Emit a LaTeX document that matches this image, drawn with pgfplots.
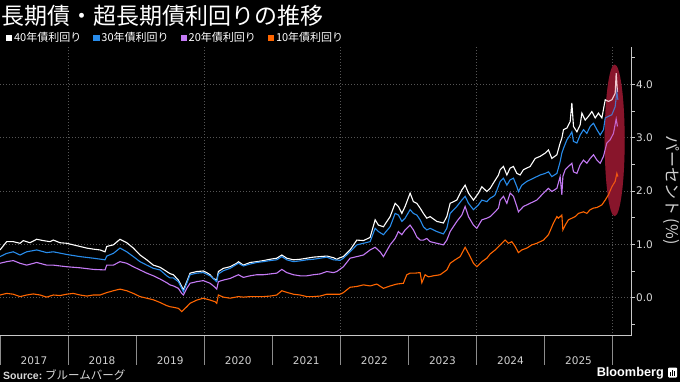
\documentclass[border=0pt]{standalone}
\usepackage{pgfplots}
\pgfplotsset{compat=1.18}
\usepackage{fontspec}
\setmainfont{DejaVu Sans}
\newfontfamily\jp{Noto Sans CJK JP}
\newfontfamily\lib{Liberation Sans}
\definecolor{c40}{RGB}{255,255,255}
\definecolor{c30}{RGB}{40,140,235}
\definecolor{c20}{RGB}{196,122,245}
\definecolor{c10}{RGB}{255,102,0}
\definecolor{axisgray}{RGB}{200,200,200}
\definecolor{gridgray}{RGB}{85,85,85}
\definecolor{sepgray}{RGB}{140,140,140}
\definecolor{ellunder}{RGB}{115,15,35}
\definecolor{ellover}{RGB}{200,40,70}
\begin{document}
\begin{tikzpicture}
\fill[black] (0pt,0pt) rectangle (680pt,-382pt);
\path[use as bounding box] (0pt,0pt) rectangle (680pt,-382pt);
% x axis: year separators, labels, vertical grid
\begin{axis}[at={(0pt,-47pt)}, anchor=north west, scale only axis,
  width=631pt, height=288.7pt,
  xmin=2017, xmax=2026.27, ymin=-0.713, ymax=4.70,
  axis x line*=bottom, axis y line=none, ytick=\empty,
  x axis line style={draw=axisgray, line width=0.7pt, -},
  xtick={2017,2018,2019,2020,2021,2022,2023,2024,2025},
  xticklabels={2017,2018,2019,2020,2021,2022,2023,2024,2025},
  extra x ticks={2026}, extra x tick labels={},
  major tick length=29pt, tick align=outside,
  xtick style={draw=sepgray, line width=0.5pt},
  xticklabel style={font=\fontsize{10.5}{12}\selectfont, text=white!82!black, xshift=34pt, yshift=12pt},
  minor xtick={2018,2020,2022,2024,2026}, xminorgrids=true, minor tick length=0pt,
  minor grid style={draw=gridgray, line width=0.5pt, dash pattern=on 1pt off 2pt},
]
\end{axis}
% main axis
\begin{axis}[at={(0pt,-47pt)}, anchor=north west, scale only axis,
  width=631pt, height=288.7pt,
  xmin=2017, xmax=2026.27, ymin=-0.713, ymax=4.70,
  axis x line=none, axis y line*=right, xtick=\empty,
  y axis line style={draw=axisgray, line width=0.8pt, -},
  ytick={0,1,2,3,4}, minor ytick={-0.5,0.5,1.5,2.5,3.5,4.5},
  tick align=outside, major tick length=4pt, minor tick length=4pt,
  ytick style={draw=axisgray, line width=0.6pt},
  ymajorgrids=true,
  major grid style={draw=gridgray, line width=0.5pt, dash pattern=on 1pt off 2pt},
  yticklabel style={font=\fontsize{10.5}{12}\selectfont, text=white!85!black, inner sep=1pt},
  /pgf/number format/.cd, fixed, fixed zerofill, precision=1, assume math mode=true,
  /pgfplots/.cd,
  legend columns=4,
  legend style={at={(axis description cs:0.0095,1.031)}, anchor=west, draw=none, fill=none,
    inner sep=0pt, outer sep=0pt, text=white, font=\jp\fontsize{11}{13}\selectfont,
    nodes={inner sep=0pt},
    /tikz/every even column/.append style={column sep=12pt}},
  legend image code/.code={\fill[#1] (0pt,-2.7pt) rectangle (5.4pt,2.7pt); \path (7pt,0pt);},
]
\fill[ellunder] (axis cs:2026.03,2.95) ellipse [x radius=10pt, y radius=75.8pt];
\addplot[c40, line width=1.1pt] coordinates {
(2017.000,0.895) (2017.098,1.05) (2017.195,1.05) (2017.294,1.02) (2017.342,1.07) (2017.441,1.03)
(2017.539,1.095) (2017.636,1.07) (2017.735,1.05) (2017.783,1.08) (2017.882,1.03) (2017.980,1.02)
(2018.077,0.99) (2018.176,0.96) (2018.274,0.93) (2018.371,0.91) (2018.470,0.895) (2018.543,0.86)
(2018.568,0.96) (2018.665,0.99) (2018.763,1.095) (2018.862,1.03) (2018.959,0.93) (2019.057,0.80)
(2019.156,0.71) (2019.253,0.61) (2019.351,0.57) (2019.450,0.49) (2019.498,0.45) (2019.547,0.43)
(2019.620,0.33) (2019.670,0.21) (2019.694,0.145) (2019.744,0.30) (2019.792,0.46) (2019.891,0.49)
(2019.987,0.50) (2020.037,0.47) (2020.086,0.43) (2020.134,0.36) (2020.184,0.33) (2020.208,0.49)
(2020.281,0.55) (2020.380,0.58) (2020.478,0.645) (2020.502,0.675) (2020.575,0.61) (2020.674,0.66)
(2020.772,0.675) (2020.869,0.695) (2020.968,0.72) (2021.066,0.74) (2021.140,0.80) (2021.213,0.74)
(2021.310,0.71) (2021.409,0.72) (2021.507,0.74) (2021.604,0.76) (2021.702,0.77) (2021.801,0.78)
(2021.898,0.75) (2021.948,0.72) (2021.996,0.75) (2022.045,0.77) (2022.143,0.895) (2022.242,1.08)
(2022.339,1.07) (2022.437,1.13) (2022.511,1.46) (2022.559,1.36) (2022.633,1.33) (2022.731,1.52)
(2022.805,1.77) (2022.853,1.71) (2022.903,1.58) (2022.951,1.71) (2023.025,1.96) (2023.073,1.80)
(2023.123,1.77) (2023.172,1.68) (2023.220,1.58) (2023.270,1.49) (2023.319,1.52) (2023.417,1.43)
(2023.514,1.40) (2023.564,1.52) (2023.613,1.77) (2023.711,1.83) (2023.785,2.02) (2023.833,2.11)
(2023.882,1.96) (2023.955,1.83) (2024.029,1.96) (2024.079,2.08) (2024.152,1.99) (2024.201,2.05)
(2024.249,2.15) (2024.323,2.30) (2024.348,2.40) (2024.396,2.46) (2024.446,2.30) (2024.494,2.43)
(2024.543,2.46) (2024.593,2.33) (2024.641,2.30) (2024.690,2.40) (2024.788,2.46) (2024.862,2.61)
(2024.935,2.65) (2025.009,2.71) (2025.057,2.77) (2025.107,2.61) (2025.181,2.68) (2025.229,2.90)
(2025.254,2.99) (2025.278,3.15) (2025.328,3.18) (2025.376,3.30) (2025.401,3.65) (2025.425,3.21)
(2025.475,3.11) (2025.523,3.24) (2025.548,3.46) (2025.597,3.33) (2025.645,3.40) (2025.695,3.49)
(2025.744,3.37) (2025.792,3.46) (2025.842,3.37) (2025.891,3.71) (2025.939,3.68) (2025.989,3.71)
(2026.037,3.83) (2026.052,4.21) (2026.071,3.86)
};
\addlegendentry{40年債利回り}
\addplot[c30, line width=1.1pt] coordinates {
(2017.000,0.77) (2017.098,0.83) (2017.195,0.86) (2017.294,0.80) (2017.392,0.86) (2017.539,0.895)
(2017.686,0.845) (2017.783,0.86) (2017.980,0.81) (2018.176,0.77) (2018.371,0.74) (2018.543,0.71)
(2018.568,0.78) (2018.665,0.83) (2018.763,0.93) (2018.862,0.86) (2018.959,0.77) (2019.057,0.675)
(2019.156,0.61) (2019.253,0.55) (2019.351,0.52) (2019.450,0.41) (2019.498,0.37) (2019.547,0.37)
(2019.620,0.30) (2019.670,0.175) (2019.694,0.11) (2019.744,0.27) (2019.792,0.43) (2019.891,0.46)
(2019.987,0.47) (2020.086,0.41) (2020.184,0.30) (2020.208,0.445) (2020.281,0.505) (2020.380,0.55)
(2020.502,0.645) (2020.575,0.595) (2020.674,0.63) (2020.772,0.66) (2020.869,0.675) (2020.968,0.695)
(2021.066,0.71) (2021.140,0.77) (2021.213,0.71) (2021.310,0.675) (2021.409,0.69) (2021.507,0.71)
(2021.604,0.72) (2021.702,0.74) (2021.801,0.76) (2021.898,0.71) (2021.996,0.70) (2022.045,0.74)
(2022.143,0.86) (2022.242,0.99) (2022.339,1.02) (2022.437,1.05) (2022.511,1.30) (2022.559,1.24)
(2022.633,1.18) (2022.731,1.33) (2022.805,1.58) (2022.853,1.55) (2022.903,1.43) (2022.951,1.49)
(2023.025,1.65) (2023.073,1.58) (2023.123,1.55) (2023.172,1.46) (2023.220,1.33) (2023.270,1.27)
(2023.319,1.30) (2023.417,1.24) (2023.514,1.195) (2023.564,1.30) (2023.613,1.58) (2023.711,1.71)
(2023.785,1.83) (2023.833,1.90) (2023.882,1.77) (2023.955,1.65) (2024.029,1.74) (2024.079,1.83)
(2024.152,1.80) (2024.201,1.865) (2024.249,1.90) (2024.274,1.93) (2024.348,2.18) (2024.396,2.24)
(2024.446,2.11) (2024.494,2.21) (2024.543,2.24) (2024.593,2.08) (2024.616,1.99) (2024.666,2.11)
(2024.740,2.18) (2024.837,2.24) (2024.935,2.30) (2025.009,2.33) (2025.057,2.36) (2025.107,2.27)
(2025.181,2.33) (2025.229,2.55) (2025.254,2.71) (2025.278,2.80) (2025.328,2.96) (2025.376,3.05)
(2025.401,3.11) (2025.425,2.93) (2025.475,2.90) (2025.523,3.05) (2025.572,3.15) (2025.621,3.08)
(2025.670,3.21) (2025.719,3.27) (2025.769,3.15) (2025.817,3.05) (2025.866,3.15) (2025.891,3.37)
(2025.939,3.40) (2025.989,3.43) (2026.037,3.58) (2026.062,3.86) (2026.077,3.71)
};
\addlegendentry{30年債利回り}
\addplot[c20, line width=1.1pt] coordinates {
(2017.000,0.645) (2017.098,0.675) (2017.195,0.695) (2017.294,0.645) (2017.392,0.61) (2017.539,0.66)
(2017.686,0.61) (2017.783,0.61) (2017.980,0.58) (2018.176,0.56) (2018.371,0.53) (2018.543,0.52)
(2018.568,0.61) (2018.665,0.61) (2018.763,0.675) (2018.862,0.645) (2018.959,0.58) (2019.057,0.52)
(2019.156,0.46) (2019.253,0.41) (2019.351,0.35) (2019.450,0.28) (2019.498,0.24) (2019.547,0.22)
(2019.620,0.175) (2019.670,0.08) (2019.694,0.05) (2019.744,0.175) (2019.792,0.27) (2019.891,0.30)
(2019.987,0.32) (2020.086,0.27) (2020.159,0.195) (2020.184,0.16) (2020.208,0.30) (2020.281,0.33)
(2020.380,0.36) (2020.502,0.43) (2020.575,0.38) (2020.674,0.41) (2020.772,0.43) (2020.869,0.43)
(2020.968,0.445) (2021.066,0.46) (2021.140,0.53) (2021.213,0.47) (2021.310,0.43) (2021.409,0.41)
(2021.507,0.41) (2021.604,0.43) (2021.702,0.445) (2021.801,0.49) (2021.898,0.47) (2021.948,0.49)
(2022.045,0.58) (2022.143,0.74) (2022.242,0.77) (2022.339,0.80) (2022.437,0.895) (2022.511,0.945)
(2022.584,0.86) (2022.633,0.77) (2022.731,0.99) (2022.805,1.11) (2022.853,1.24) (2022.903,1.18)
(2022.951,1.27) (2023.025,1.36) (2023.073,1.27) (2023.123,1.14) (2023.172,1.08) (2023.220,1.08)
(2023.270,1.11) (2023.319,1.05) (2023.417,1.02) (2023.514,0.99) (2023.564,1.08) (2023.613,1.24)
(2023.711,1.43) (2023.785,1.55) (2023.833,1.71) (2023.882,1.52) (2023.955,1.36) (2024.005,1.30)
(2024.079,1.46) (2024.152,1.49) (2024.201,1.52) (2024.249,1.58) (2024.274,1.61) (2024.323,1.68)
(2024.348,1.83) (2024.396,1.90) (2024.446,1.77) (2024.494,1.96) (2024.543,1.90) (2024.593,1.71)
(2024.616,1.61) (2024.690,1.71) (2024.788,1.77) (2024.887,1.83) (2024.984,1.96) (2025.057,2.05)
(2025.107,1.99) (2025.181,2.05) (2025.229,2.27) (2025.254,1.93) (2025.269,2.27) (2025.303,2.40)
(2025.351,2.46) (2025.401,2.52) (2025.425,2.36) (2025.475,2.33) (2025.523,2.49) (2025.572,2.58)
(2025.621,2.52) (2025.670,2.61) (2025.719,2.68) (2025.769,2.58) (2025.817,2.52) (2025.866,2.65)
(2025.915,2.90) (2025.964,2.96) (2026.012,3.08) (2026.052,3.35) (2026.071,3.21)
};
\addlegendentry{20年債利回り}
\addplot[c10, line width=1.1pt] coordinates {
(2017.000,0.05) (2017.098,0.08) (2017.195,0.065) (2017.294,0.02) (2017.392,0.05) (2017.489,0.07)
(2017.588,0.05) (2017.686,0.01) (2017.783,0.05) (2017.882,0.04) (2017.980,0.065) (2018.077,0.08)
(2018.176,0.05) (2018.274,0.03) (2018.371,0.05) (2018.470,0.05) (2018.568,0.095) (2018.665,0.13)
(2018.763,0.16) (2018.862,0.13) (2018.959,0.08) (2019.057,0.02) (2019.156,-0.01) (2019.253,-0.04)
(2019.351,-0.09) (2019.450,-0.15) (2019.498,-0.17) (2019.547,-0.18) (2019.620,-0.20) (2019.670,-0.26)
(2019.694,-0.23) (2019.744,-0.17) (2019.792,-0.105) (2019.891,-0.045) (2019.987,-0.01) (2020.086,-0.045)
(2020.159,-0.075) (2020.184,-0.105) (2020.208,0.05) (2020.281,0.01) (2020.380,-0.01) (2020.502,0.02)
(2020.575,0.01) (2020.674,0.02) (2020.772,0.02) (2020.869,0.02) (2020.968,0.03) (2021.066,0.05)
(2021.140,0.13) (2021.213,0.10) (2021.310,0.065) (2021.409,0.05) (2021.507,0.02) (2021.604,0.02)
(2021.702,0.03) (2021.801,0.065) (2021.898,0.065) (2021.996,0.065) (2022.045,0.095) (2022.143,0.195)
(2022.242,0.21) (2022.339,0.24) (2022.437,0.22) (2022.536,0.255) (2022.633,0.175) (2022.731,0.22)
(2022.829,0.255) (2022.926,0.27) (2022.976,0.43) (2023.025,0.46) (2023.098,0.46) (2023.172,0.47)
(2023.197,0.28) (2023.245,0.43) (2023.294,0.39) (2023.367,0.41) (2023.466,0.43) (2023.564,0.52)
(2023.613,0.645) (2023.686,0.71) (2023.760,0.77) (2023.833,0.945) (2023.882,0.83) (2023.955,0.645)
(2024.005,0.58) (2024.079,0.675) (2024.152,0.74) (2024.201,0.82) (2024.274,0.895) (2024.348,0.99)
(2024.421,1.08) (2024.469,1.02) (2024.519,1.05) (2024.568,0.96) (2024.616,0.845) (2024.666,0.895)
(2024.740,0.93) (2024.813,0.99) (2024.887,1.02) (2024.984,1.08) (2025.057,1.18) (2025.131,1.40)
(2025.181,1.52) (2025.204,1.49) (2025.254,1.55) (2025.269,1.27) (2025.303,1.36) (2025.351,1.46)
(2025.401,1.49) (2025.450,1.52) (2025.498,1.58) (2025.572,1.61) (2025.621,1.58) (2025.670,1.65)
(2025.719,1.68) (2025.769,1.69) (2025.842,1.74) (2025.891,1.83) (2025.939,1.93) (2025.989,2.08)
(2026.037,2.18) (2026.062,2.33) (2026.077,2.27)
};
\addlegendentry{10年債利回り}
\fill[ellover, opacity=0.25] (axis cs:2026.03,2.95) ellipse [x radius=10pt, y radius=75.8pt];
\end{axis}
% texts
\node[anchor=west, inner sep=0pt, text=white, font=\jp\fontsize{23}{27}\selectfont] at (1pt,-16pt) {長期債・超長期債利回りの推移};
\node[rotate=-90, inner sep=0pt, text=white!82!black, font=\jp\fontsize{16}{18}\selectfont] at (671pt,-190pt) {パーセント (\%)};
\node[anchor=west, inner sep=0pt, text=white!85!black, font=\lib\fontsize{10.5}{12}\selectfont] at (3pt,-375pt) {\textbf{Source:}\ {\jp\fontsize{11.5}{13}\selectfont ブルームバーグ}};
\node[anchor=east, inner sep=0pt, text=white, font=\lib\bfseries\fontsize{12.7}{14}\selectfont] at (664pt,-373pt) {Bloomberg};
\fill[white, rounded corners=1pt] (668pt,-367.5pt) rectangle (677pt,-377.5pt);
\fill[black] (670pt,-375.5pt) rectangle (671pt,-372pt);
\fill[black] (672pt,-375.5pt) rectangle (673pt,-370pt);
\fill[black] (674pt,-375.5pt) rectangle (675pt,-371pt);
\end{tikzpicture}
\end{document}
